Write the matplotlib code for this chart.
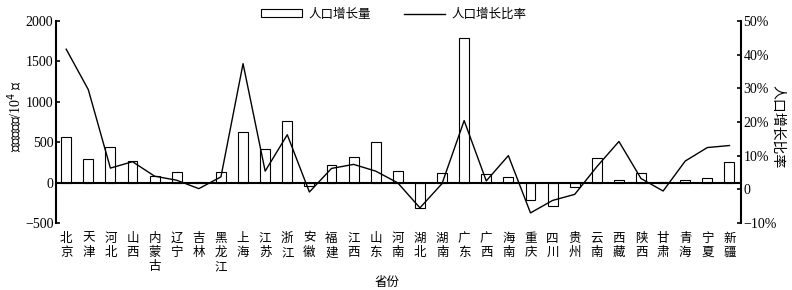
import numpy as np
import matplotlib.pyplot as plt

plt.rcParams['font.family'] = ['Liberation Serif', 'Noto Sans CJK SC', 'DejaVu Sans']
plt.rcParams['axes.unicode_minus'] = True

provinces = ['北京', '天津', '河北', '山西', '内蒙古', '辽宁', '吉林', '黑龙江', '上海', '江苏',
             '浙江', '安徽', '福建', '江西', '山东', '河南', '湖北', '湖南', '广东', '广西',
             '海南', '重庆', '四川', '贵州', '云南', '西藏', '陕西', '甘肃', '青海', '宁夏', '新疆']

# 人口增长量 (10^4 人)
growth = [567, 294, 443, 269, 87, 133, 9, 133, 620, 418,
          761, -37, 219, 319, 500, 145, -314, 120, 1787, 112,
          71, -215, -294, -53, 306, 29, 120, 3, 37, 58, 257]

# 人口增长比率 (%)
ratio = [41.6, 29.6, 6.3, 8.2, 3.9, 2.7, 0.2, 3.7, 37.3, 5.4,
         16.2, -0.8, 6.2, 7.4, 5.4, 1.9, -5.5, 1.7, 20.4, 2.5,
         10.0, -7.0, -3.3, -1.5, 6.7, 14.2, 3.2, -0.5, 8.4, 12.4, 13.0]

x = np.arange(len(provinces))
xlabels = ['\n'.join(p) for p in provinces]

fig = plt.figure(figsize=(7.92, 2.9), dpi=100)
ax = fig.add_axes([0.071, 0.231, 0.864, 0.697])
ax2 = ax.twinx()

# 柱状图
ax.bar(x, growth, width=0.45, facecolor='white', edgecolor='black', linewidth=0.8,
       label='人口增长量', zorder=2)
ax.axhline(0, color='black', linewidth=1.5, zorder=3)
ax.set_xlim(-0.45, 30.5)
ax.set_ylim(-500, 2000)
ax.set_yticks([-500, 0, 500, 1000, 1500, 2000])
ax.set_yticklabels(['−500', '0', '500', '1000', '1500', '2000'])

# 折线图
ax2.plot(x, ratio, color='black', linewidth=1.0, label='人口增长比率', zorder=4)
ax2.set_ylim(-10, 50)
ax2.set_yticks([-10, 0, 10, 20, 30, 40, 50])
ax2.set_yticklabels(['−10%', '0', '10%', '20%', '30%', '40%', '50%'])

for a in (ax, ax2):
    a.spines['top'].set_visible(False)
    a.spines['bottom'].set_visible(False)
    a.tick_params(axis='y', direction='in', length=3, width=1.2, labelsize=10, pad=2)
ax.spines['right'].set_visible(False)
ax2.spines['left'].set_visible(False)
ax.spines['left'].set_linewidth(1.5)
ax2.spines['right'].set_linewidth(1.5)

ax.set_xticks(x)
ax.set_xticklabels(xlabels, fontsize=9, linespacing=1.25, va='top')
ax.tick_params(axis='x', length=0, pad=7)

# 坐标轴标题
fig.text(0.019, 0.60, '人口增长量/10$^4$ 人', fontsize=10, rotation=90, ha='center', va='center')
fig.text(0.982, 0.562, '人口增长比率', fontsize=10, rotation=270, ha='center', va='center')
fig.text(0.489, 0.024, '省份', fontsize=9, ha='center', va='center')

# 图例
fig.legend(loc='upper center', bbox_to_anchor=(0.497, 1.01), ncol=2, frameon=False,
           fontsize=9, handlelength=3.3, handleheight=0.6, handletextpad=0.5,
           columnspacing=2.6)

fig.savefig('out.png', dpi=100)
